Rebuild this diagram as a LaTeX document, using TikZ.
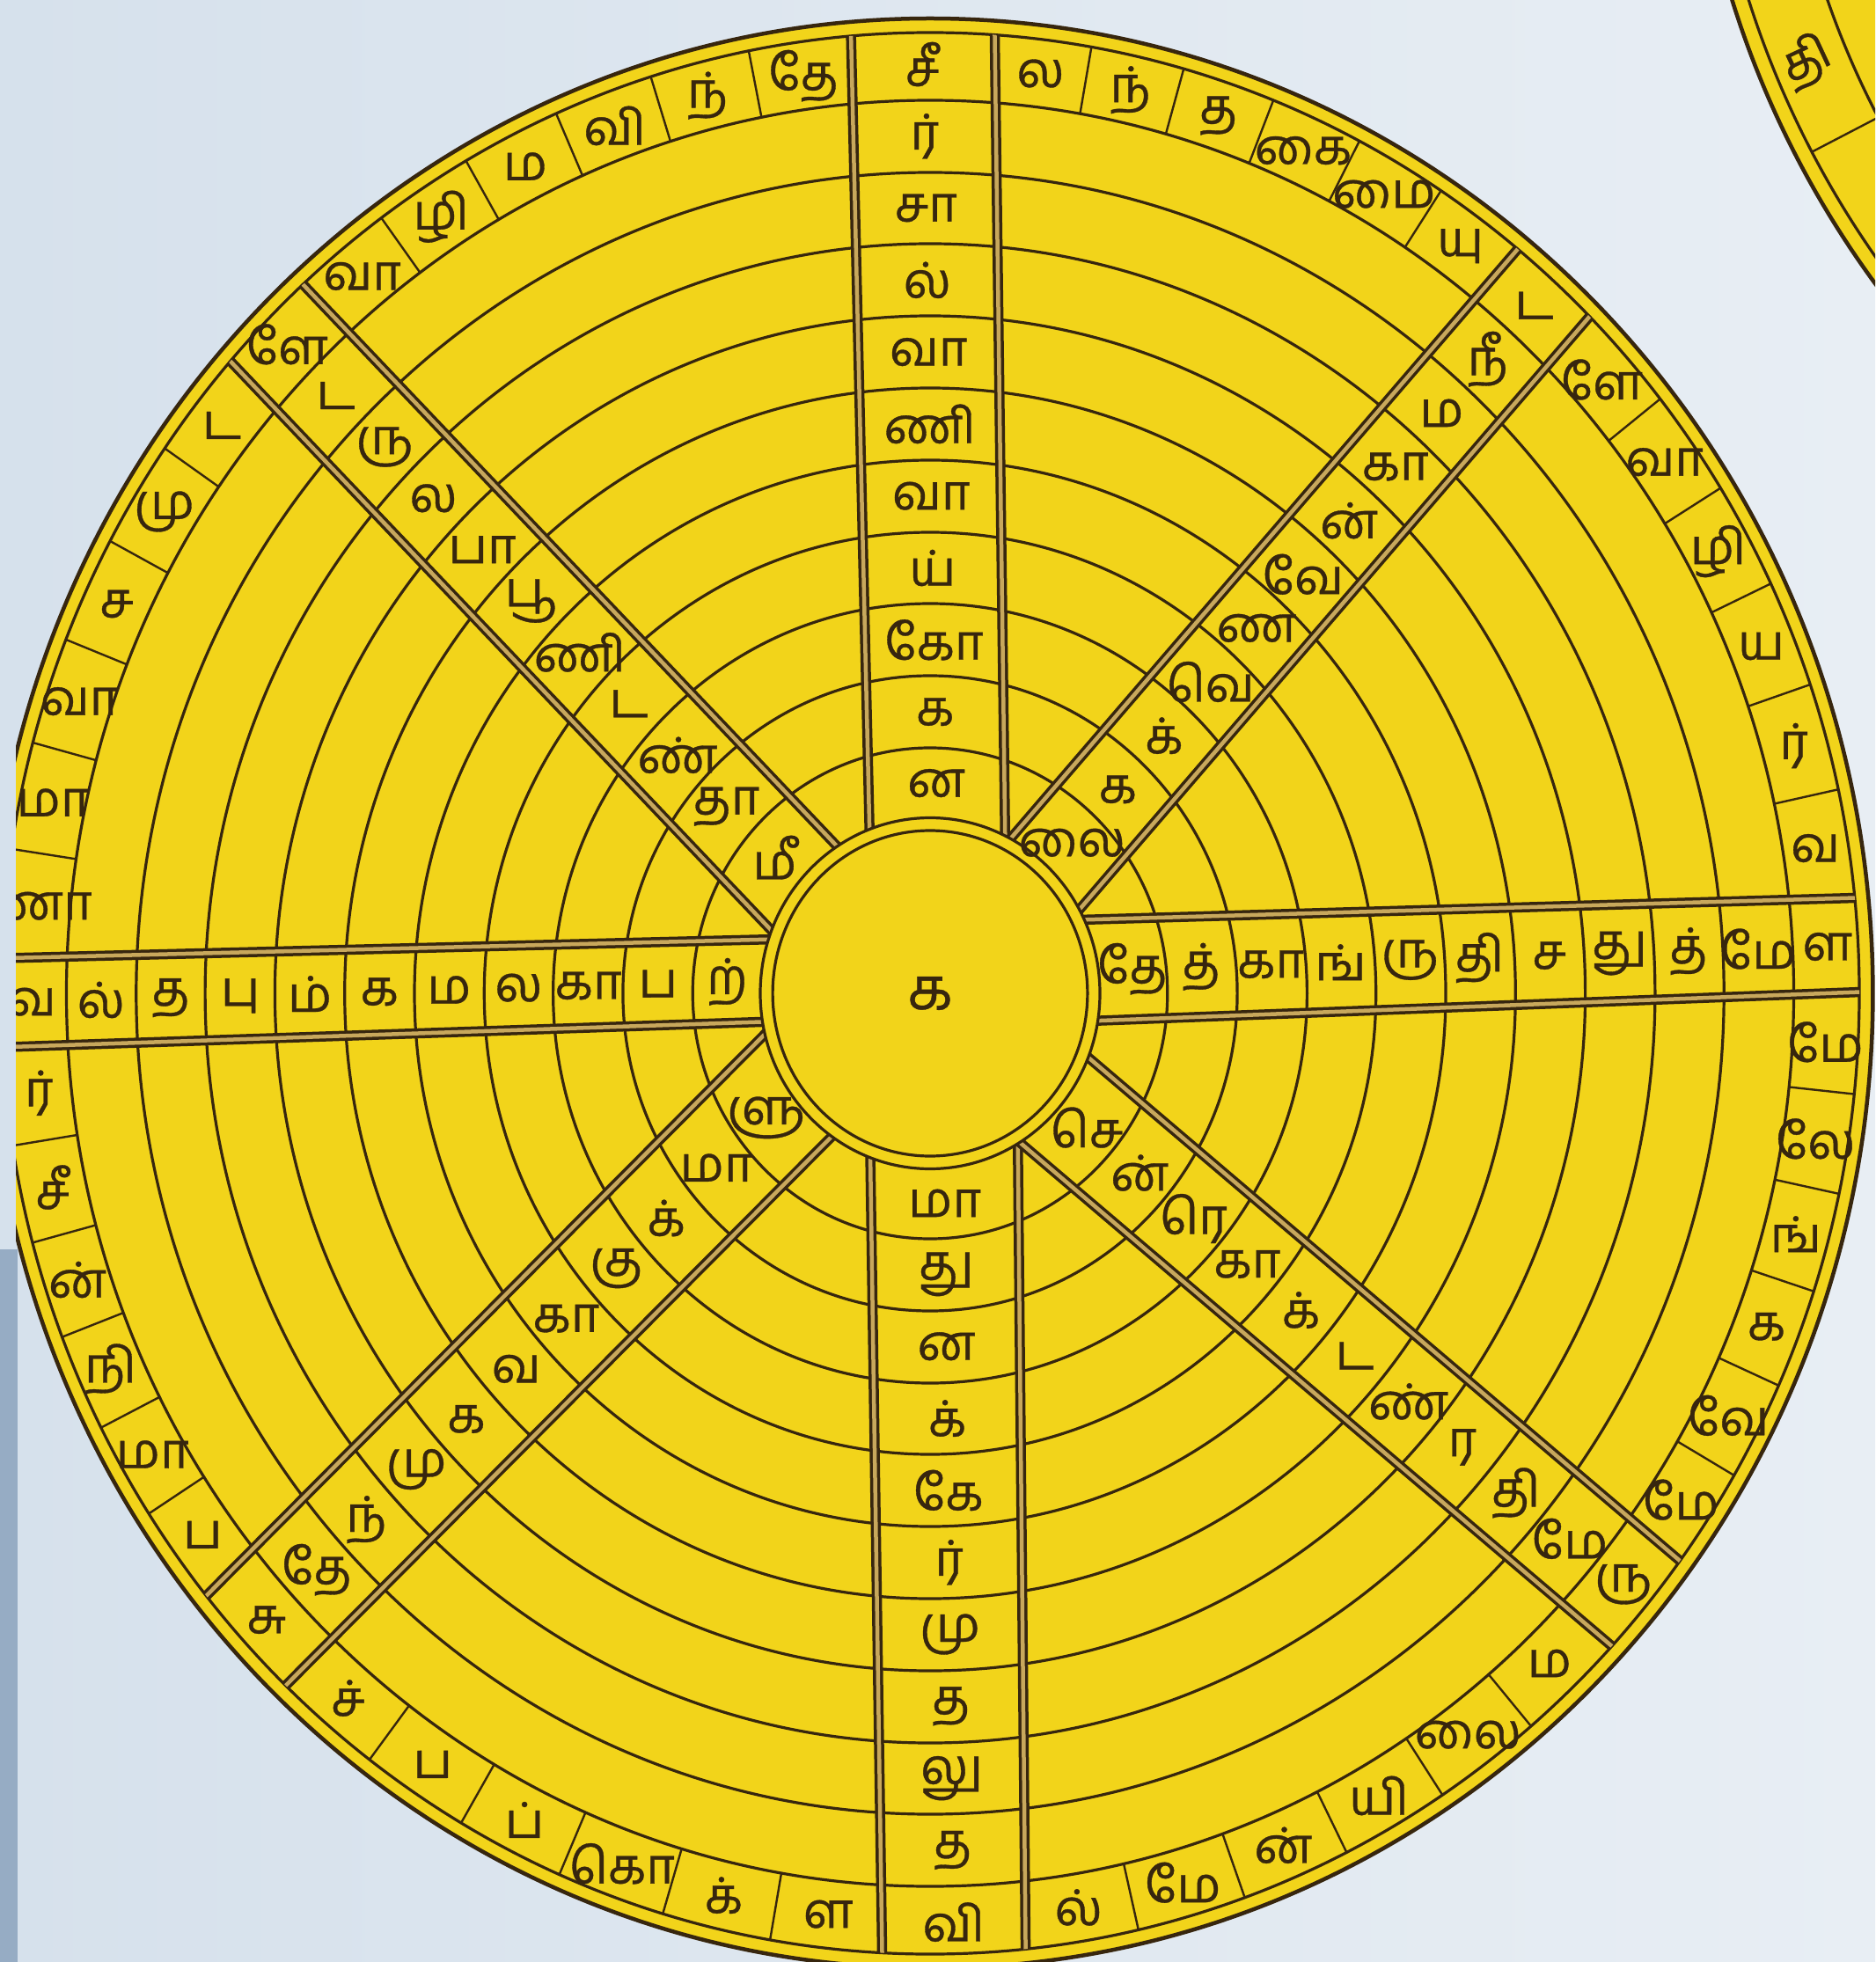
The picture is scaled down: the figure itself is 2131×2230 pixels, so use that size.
\documentclass[tikz,border=0pt]{standalone}
\usepackage{fontspec}
\newfontfamily\tamilfont[Script=Tamil, FakeBold=0.6]{Hind Madurai}
\usetikzlibrary{calc}
\definecolor{bgl}{RGB}{214,225,236}
\definecolor{bgr}{RGB}{232,238,244}
\definecolor{yel}{RGB}{242,212,26}
\definecolor{ink}{RGB}{55,38,14}
\definecolor{tanc}{RGB}{200,168,92}
\definecolor{edgec}{RGB}{150,172,196}
% #1 name, #2 px, #3 py, #4 ux, #5 uy (screen, rel. to centre), #6 letters inner->outer
\newcommand\bandletters[6]{%
  \foreach \L [count=\k from 0] in {#6}{%
    \pgfmathsetmacro\rr{(\k==0)*2.39+(\k==10)*10.56+(\k>0)*(\k<10)*(2.79+0.818*(\k-0.5))}%
    \pgfmathsetmacro\qa{((#4)/0.967)^2+(#5)^2}%
    \pgfmathsetmacro\qb{2*(((#2)/100)*(#4)/(0.967*0.967)+((#3)/100)*(#5))}%
    \pgfmathsetmacro\qc{(((#2)/100)/0.967)^2+((#3)/100)^2-\rr*\rr}%
    \pgfmathsetmacro\qt{(0-(\qb)+sqrt((\qb)*(\qb)-4*\qa*(\qc)))/(2*\qa)}%
    \node[tl] (#1-\k) at ({1057+(#2)+100*\qt*(#4)},{-(1129+(#3)+100*\qt*(#5))}) {\L};
  }}
% #1 name, #2 theta1, #3 theta2, #4 six letters
\newcommand\ringletters[4]{%
  \foreach \L [count=\k] in {#4}{%
    \pgfmathsetmacro\th{#2+(\k-0.5)*(#3-#2)/6}%
    \node[tl] (#1-\k) at ({1057+1018.7*cos(\th)},{-1129+1053.5*sin(\th)}) {\L};
  }%
  \foreach \k in {1,...,5}{%
    \pgfmathsetmacro\th{#2+\k*(#3-#2)/6}%
    \draw[tickline] ({1057+981.5*cos(\th)},{-1129+1015*sin(\th)}) -- ({1057+1056*cos(\th)},{-1129+1092*sin(\th)});
  }}
\newcommand\bandedge[2]{\draw[bandout] #1 -- #2; \draw[bandin] #1 -- #2;}
\begin{document}
\begin{tikzpicture}[x=0.1mm,y=0.1mm,
  tl/.style={font=\tamilfont\fontsize{16}{16}\selectfont, text=ink, inner sep=0pt},
  ringline/.style={draw=ink, line width=0.32mm},
  tickline/.style={draw=ink, line width=0.24mm},
  bandout/.style={draw=ink, line width=1.15mm},
  bandin/.style={draw=tanc, line width=0.45mm}]
\useasboundingbox (0,0) rectangle (2131,-2230);
\clip (0,0) rectangle (2131,-2230);
\shade[left color=bgl, right color=bgr] (0,0) rectangle (2131,-2230);
\fill[edgec] (0,-1420) rectangle (20,-2230);

% second wheel (top right corner)
\coordinate (C2) at (3019,327);
\fill[yel] (C2) circle [radius=1100];
\draw[ink, line width=0.45mm] (C2) circle [radius=1100];
\draw[ringline] (C2) circle [radius=1082];
\draw[ringline] (C2) circle [radius=997];
\draw[tickline] ($(C2)+(207.5:997)$) -- ($(C2)+(207.5:1082)$);
\node[tl, rotate=25] (w2a) at ($(C2)+(202.3:1044)$) {தி};

% main wheel
\coordinate (C) at (1057,-1129);
\begin{scope}
\clip (18,0) rectangle (2131,-2230);
\fill[yel] (C) ellipse [x radius=1071.4, y radius=1108];
\draw[ink, line width=0.45mm] (C) ellipse [x radius=1071.4, y radius=1108];
\draw[ringline] (C) ellipse [x radius=1056, y radius=1092];
\foreach \r in {279,361,443,524,606,688,770,852,933,1015}
  \draw[ringline] (C) ellipse [x radius={0.967*\r}, y radius=\r];
\begin{scope}
\clip (C) ellipse [x radius=1056, y radius=1092];
\bandedge{(992.5,-1129)}{(965,50)}
\bandedge{(1144.6,-1129)}{(1129.3,50)}
\bandedge{(986.3,-1129)}{(1003.7,-2300)}
\bandedge{(1155.1,-1129)}{(1166.4,-2300)}
\bandedge{(1057,-1063.2)}{(-50,-1090.4)}
\bandedge{(1057,-1155.1)}{(-50,-1192)}
\bandedge{(1057,-1050.3)}{(2250,-1016.5)}
\bandedge{(1057,-1167.3)}{(2250,-1122.4)}
\bandedge{(1028.6,-1092.5)}{(1876.2,-107.1)}
\bandedge{(1113.4,-1165.5)}{(1961,-180.1)}
\bandedge{(1067.5,-1084.2)}{(171.8,-141.7)}
\bandedge{(980.5,-1166.8)}{(84.8,-224.3)}
\bandedge{(1088.4,-1147.7)}{(101.4,-2140.3)}
\bandedge{(992,-1051.9)}{(5,-2044.5)}
\bandedge{(1026,-1185.3)}{(2092.1,-2092.5)}
\bandedge{(1106.4,-1090.9)}{(2172.5,-1998.1)}
\end{scope}
\fill[yel] (C) ellipse [x radius=193, y radius=199.5];
\draw[ringline] (C) ellipse [x radius=193, y radius=199.5];
\draw[ringline] (C) ellipse [x radius=178.9, y radius=185];
\node[tl, font=\tamilfont\fontsize{19}{19}\selectfont] (ctr) at (C) {க};

\bandletters{bn}{6.5}{-279}{-0.01818}{-0.99983}{ன,க,கோ,ய்,வா,ணி,வா,ல்,சா,ர்,சீ}
\bandletters{bs}{16.75}{251}{0.01231}{0.99992}{மா,து,ன,க்,கே,ர்,மு,த,லு,த,வி}
\bandletters{bw}{-237}{-13}{-0.99958}{0.02894}{ற்,ப,கா,ல,ம,க,ம்,பு,த,ல்,வ}
\bandletters{be}{243}{-28.2}{0.99949}{-0.03189}{தே,த்,கா,ங்,ரு,தி,ச,து,த்,மே,ள}
\bandletters{bne}{14}{0}{0.652}{-0.758}{லை,க,க்,வெ,ண,வே,ன்,கா,ம,நீ,ட}
\bandletters{bnw}{-33}{-3.5}{-0.689}{-0.725}{மீ,தா,ண்,ட,ணி,பூ,பா,ல,ரு,ட,ளே}
\bandletters{bsw}{-16.8}{-29.2}{-0.705}{0.709}{ளு,மா,க்,கு,கா,வ,க,மு,ந்,தே,சு}
\bandletters{bse}{9.2}{9.1}{0.7615}{0.648}{செ,ன்,ரெ,கா,க்,ட,ண்,ர,தி,மே,ரு}

\ringletters{r1}{5.76}{44.71}{வ,ர்,ய,ழி,வா,ளே}
\ringletters{r2}{50.81}{85.84}{யு,மை,கை,த,ந்,ல}
\ringletters{r3}{95.02}{132.43}{தே,ந்,வி,ம,ழி,வா}
\ringletters{r4}{138.97}{177.83}{ட,மு,ச,வா,மா,ணா}
\ringletters{r5}{183.21}{218.7}{ர்,சீ,ன்,நி,மா,ப}
\ringletters{r6}{226.1}{266.88}{ச்,ப,ப்,கொ,க்,ள}
\ringletters{r7}{276.12}{317.13}{ல்,மே,ன்,யி,லை,ம}
\ringletters{r8}{323.87}{360}{மே,வே,க,ங்,லே,மே}
\end{scope}
\end{tikzpicture}
\end{document}
